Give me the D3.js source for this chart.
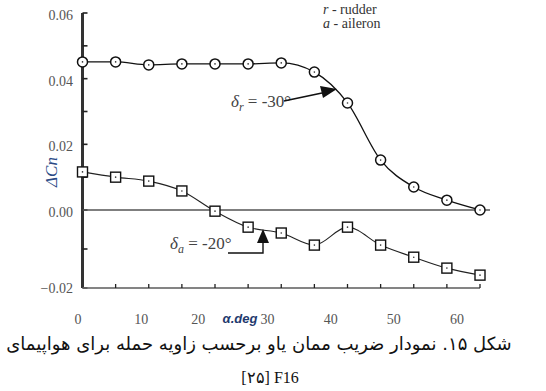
<!DOCTYPE html>
<html><head><meta charset="utf-8">
<script src="https://cdn.jsdelivr.net/npm/d3@7"></script>
<style>
body{margin:0;background:#fff}svg{display:block}
svg text.serif, svg tspan.serif{font-family:"Liberation Serif","DejaVu Serif",serif !important;}
svg text.sans{font-family:"Liberation Sans",Arial,sans-serif !important;}
svg text.fa{font-family:"DejaVu Sans",sans-serif !important;}
</style>
</head><body>
<svg id="c" width="546" height="391"></svg>
<script>
const alpha = [0,5,10,15,20,25,30,35,40,45,50,55,60];
const rudder = [0.0451,0.0451,0.0442,0.0445,0.0445,0.0445,0.0448,0.0420,0.0326,0.0152,0.0070,0.0030,0.0000];
const aileron = [0.0116,0.0100,0.0088,0.0058,-0.0003,-0.0044,-0.0059,-0.0090,-0.0044,-0.0090,-0.0121,-0.0149,-0.0167];
const xTickLabels = [0,10,20,30,40,50,60];
const yTickLabels = [0.06,0.04,0.02,0.00,-0.02];
const yMinorTicks = [0.06,0.05,0.04,0.03,0.02,0.01,0,-0.01,-0.02];
const xMinorTicks = [5,10,15,20,25,30,35,40,45,50,55,60];

const svg = d3.select("#c");
const xs = d3.scaleLinear().domain([0,60]).range([82.5,480]);
const xLab = d3.scaleLinear().domain([0,60]).range([78,457]);
const ys = d3.scaleLinear().domain([-0.02,0,0.06]).range([288,210,13]);
const gray = "#555";

// y axis as rect
svg.append("rect").attr("x",xs(0)-1.5).attr("y",ys(0.06)).attr("width",3).attr("height",ys(-0.02)-ys(0.06))
  .attr("fill","#333");
svg.append("g").selectAll("rect").data(yMinorTicks).join("rect")
  .attr("x",xs(0)).attr("y",d=>ys(d)-0.8).attr("width",5).attr("height",1.6).attr("fill","#222");

// bottom axis as rect
svg.append("rect").attr("x",xs(0)).attr("y",ys(-0.02)-0.8).attr("width",xs(60)-xs(0)).attr("height",1.6)
  .attr("fill","#666");
svg.append("g").selectAll("rect").data(xMinorTicks).join("rect")
  .attr("x",d=>xs(d)-0.65).attr("y",ys(-0.02)-4).attr("width",1.3).attr("height",4).attr("fill","#222");

// zero line
svg.append("path").attr("d",`M${xs(0)},${ys(0)}H490`)
  .attr("fill","none").attr("stroke","#555").attr("stroke-width",1.6);

// bottom labels
svg.append("g").selectAll("text").data(xTickLabels).join("text").attr("class","serif")
  .attr("x",d=>xLab(d)+(d===20?-6:0)).attr("y",324).attr("text-anchor","middle")
  .attr("font-size",14).attr("fill",gray).text(d=>d);

svg.append("g").selectAll("text").data(yTickLabels).join("text").attr("class","serif")
  .attr("x",73).attr("y",d=>ys(d)+ (d===-0.02?0:2)).attr("dy","0.35em").attr("text-anchor","end")
  .attr("font-size",14).attr("fill",gray).text(d=>d3.format(".2f")(d));

// axis titles
svg.append("text").attr("class","serif").attr("transform","translate(57,172) rotate(-90)").attr("text-anchor","middle")
  .attr("font-style","italic").attr("font-size",17).attr("fill","#2a4a85").text("ΔCn");
svg.append("text").attr("class","sans").attr("x",240).attr("y",323).attr("text-anchor","middle")
  .attr("font-style","italic").attr("font-weight","bold")
  .attr("font-size",13).attr("fill","#1f3a6e").text("α.deg");

// curves
const lineGen = d3.line().x((d,i)=>xs(alpha[i])).y(d=>ys(d)).curve(d3.curveMonotoneX);
svg.append("path").attr("d",lineGen(rudder)).attr("fill","none").attr("stroke","#111").attr("stroke-width",1.3);
svg.append("path").attr("d",lineGen(aileron)).attr("fill","none").attr("stroke","#222").attr("stroke-width",1.1);

// markers rudder
const rg = svg.append("g").selectAll("g").data(rudder).join("g")
  .attr("transform",(d,i)=>`translate(${xs(alpha[i])},${ys(d)})`);
rg.append("circle").attr("r",5).attr("fill","#fff").attr("stroke","#111").attr("stroke-width",1.5);
rg.append("circle").attr("r",0.8).attr("fill","#333");

// markers aileron
const ag = svg.append("g").selectAll("g").data(aileron).join("g")
  .attr("transform",(d,i)=>`translate(${xs(alpha[i])},${ys(d)})`);
ag.append("rect").attr("x",-5).attr("y",-5).attr("width",10).attr("height",10)
  .attr("fill","#fff").attr("stroke","#111").attr("stroke-width",1.4);
ag.append("circle").attr("r",0.8).attr("fill","#333");

// annotations
const t1 = svg.append("text").attr("class","serif").attr("x",231).attr("y",107).attr("font-size",17).attr("fill","#444");
t1.append("tspan").attr("font-style","italic").text("δ");
t1.append("tspan").attr("font-style","italic").attr("font-size",12).attr("dy",4).text("r");
t1.append("tspan").attr("dy",-4).text(" = -30°");
svg.append("path").attr("d","M284,101L322,93").attr("fill","none").attr("stroke","#111").attr("stroke-width",1.6);
svg.append("path").attr("d","M337,89 L320,86 L323,98 Z").attr("fill","#111");

const t2 = svg.append("text").attr("class","serif").attr("x",170).attr("y",249).attr("font-size",17).attr("fill","#444");
t2.append("tspan").attr("font-style","italic").text("δ");
t2.append("tspan").attr("font-style","italic").attr("font-size",12).attr("dy",4).text("a");
t2.append("tspan").attr("dy",-4).text(" = -20°");
svg.append("path").attr("d","M228,253 L263,253 L263,242").attr("fill","none").attr("stroke","#111").attr("stroke-width",1.4);
svg.append("path").attr("d","M263,229 L257,243 L269,243 Z").attr("fill","#111");

// legend
const l1 = svg.append("text").attr("class","serif").attr("x",323).attr("y",14).attr("font-size",14).attr("fill","#333");
l1.append("tspan").attr("font-style","italic").text("r");
l1.append("tspan").text(" - rudder");
const l2 = svg.append("text").attr("class","serif").attr("x",323).attr("y",28).attr("font-size",14).attr("fill","#333");
l2.append("tspan").attr("font-style","italic").text("a");
l2.append("tspan").text(" - aileron");

// caption
svg.append("text").attr("class","fa").attr("x",259).attr("y",350).attr("text-anchor","middle").attr("direction","rtl")
  .attr("font-size",18).attr("fill","#111")
  .text("شکل ۱۵. نمودار ضریب ممان یاو برحسب زاویه حمله برای هواپیمای");
svg.append("text").attr("class","serif").attr("x",270).attr("y",383).attr("text-anchor","middle")
  .attr("font-size",16).attr("fill","#111").text("[۲۵] F16");
</script>
</body></html>
